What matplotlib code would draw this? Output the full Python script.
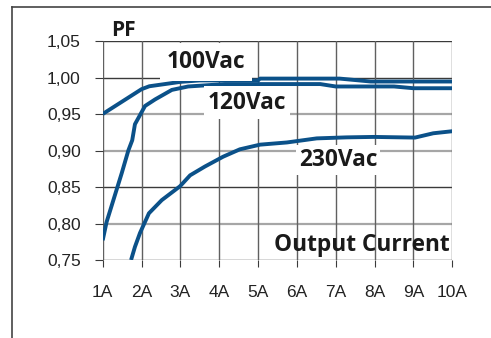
import matplotlib
matplotlib.use("Agg")
import matplotlib.pyplot as plt
from matplotlib.lines import Line2D

# ---- data ----
x_ticks = [1, 2, 3, 4, 5, 6, 7, 8, 9, 10]
x_labels = ["1A", "2A", "3A", "4A", "5A", "6A", "7A", "8A", "9A", "10A"]
y_ticks = [0.75, 0.80, 0.85, 0.90, 0.95, 1.00, 1.05]
y_labels = ["0,75", "0,80", "0,85", "0,90", "0,95", "1,00", "1,05"]

i_100 = [1.0, 1.5, 2.0, 2.2, 3.0, 3.5, 5.0, 5.05, 7.1, 7.9, 10.0]
pf_100 = [0.950, 0.967, 0.984, 0.988, 0.994, 0.996, 0.996, 0.9985, 0.9985, 0.9945, 0.9945]

i_120 = [1.0, 1.1, 1.49, 1.66, 1.76, 1.83, 2.09, 2.35, 2.78, 3.2, 4.15, 6.6, 7.0, 8.5, 9.0, 10.0]
pf_120 = [0.777, 0.802, 0.869, 0.900, 0.914, 0.936, 0.961, 0.970, 0.983, 0.9877,
          0.991, 0.991, 0.9877, 0.9877, 0.9853, 0.9853]

i_230 = [1.73, 1.83, 1.96, 2.19, 2.52, 2.99, 3.25, 3.63, 4.1, 4.53, 5.05, 5.74,
         6.51, 7.28, 7.97, 9.04, 9.51, 10.0]
pf_230 = [0.750, 0.768, 0.787, 0.814, 0.832, 0.851, 0.866, 0.878, 0.8915, 0.9016,
          0.908, 0.911, 0.9166, 0.918, 0.9186, 0.9177, 0.9236, 0.9264]

W, H = 491, 338
fig = plt.figure(figsize=(W / 100, H / 100), dpi=100)
fig.patch.set_facecolor("white")

# outer frame (left and top edges visible)
fig.add_artist(Line2D([12 / W, 12 / W], [0, 1 - 7.3 / H], color="#444444", lw=1.2,
                      transform=fig.transFigure))
fig.add_artist(Line2D([12 / W, 1], [1 - 7.3 / H, 1 - 7.3 / H], color="#444444", lw=1.2,
                      transform=fig.transFigure))

x0, x1 = 102.7 / W, 452.3 / W
y1, y0 = 1 - 41 / H, 1 - 260 / H
ax = fig.add_axes([x0, y0, x1 - x0, y1 - y0])
ax.set_xlim(1, 10)
ax.set_ylim(0.75, 1.05)

# grid
dark_y = {0.75, 0.85, 1.00, 1.05}
for v in y_ticks:
    if round(v, 2) in dark_y:
        ax.axhline(v, color="#3a3a3a", lw=1.0, zorder=1)
    else:
        ax.axhline(v, color="#a6a6a6", lw=1.6, zorder=1)
for v in x_ticks:
    ax.axvline(v, color="#606060", lw=1.0, zorder=1)

for s in ax.spines.values():
    s.set_visible(False)

ax.set_xticks(x_ticks)
ax.set_xticklabels(x_labels, fontfamily="Liberation Sans", fontsize=12.5, color="#222222")
ax.set_yticks(y_ticks)
ax.set_yticklabels(y_labels, fontfamily="Liberation Sans", fontsize=12.5, color="#222222")
ax.tick_params(axis="x", direction="out", length=5.2, width=0.8, color="#3a3a3a", pad=12.5)
ax.tick_params(axis="y", direction="out", length=5.8, width=0.8, color="#3a3a3a", pad=10)

blue = "#0b5189"
for xs, ys in [(i_100, pf_100), (i_120, pf_120), (i_230, pf_230)]:
    ax.plot(xs, ys, color=blue, lw=2.8, zorder=4, solid_joinstyle="round",
            solid_capstyle="butt", clip_on=True)

bold = dict(fontfamily="Open Sans", fontweight="bold", color="#1a1a1a")
box = dict(facecolor="white", edgecolor="none", pad=3)

def px(xp, yp):
    return (xp / W, 1 - yp / H)

fs = 16.3
fig.text(*px(123, 30), "PF", ha="center", va="center", fontsize=15, **bold)
fig.text(*px(206, 62), "100Vac", ha="center", va="center", fontsize=fs, zorder=3,
         bbox=dict(facecolor="white", edgecolor="none", pad=5), **bold)
fig.text(*px(247, 102.5), "120Vac", ha="center", va="center", fontsize=fs, zorder=3,
         bbox=box, **bold)
fig.text(*px(338, 160), "230Vac", ha="center", va="center", fontsize=fs, zorder=3,
         bbox=dict(facecolor="white", edgecolor="none", pad=2), **bold)
fig.text(*px(450, 245), "Output Current", ha="right", va="center", fontsize=fs,
         zorder=5, **bold)

fig.savefig("out.png", dpi=100, facecolor="white")
